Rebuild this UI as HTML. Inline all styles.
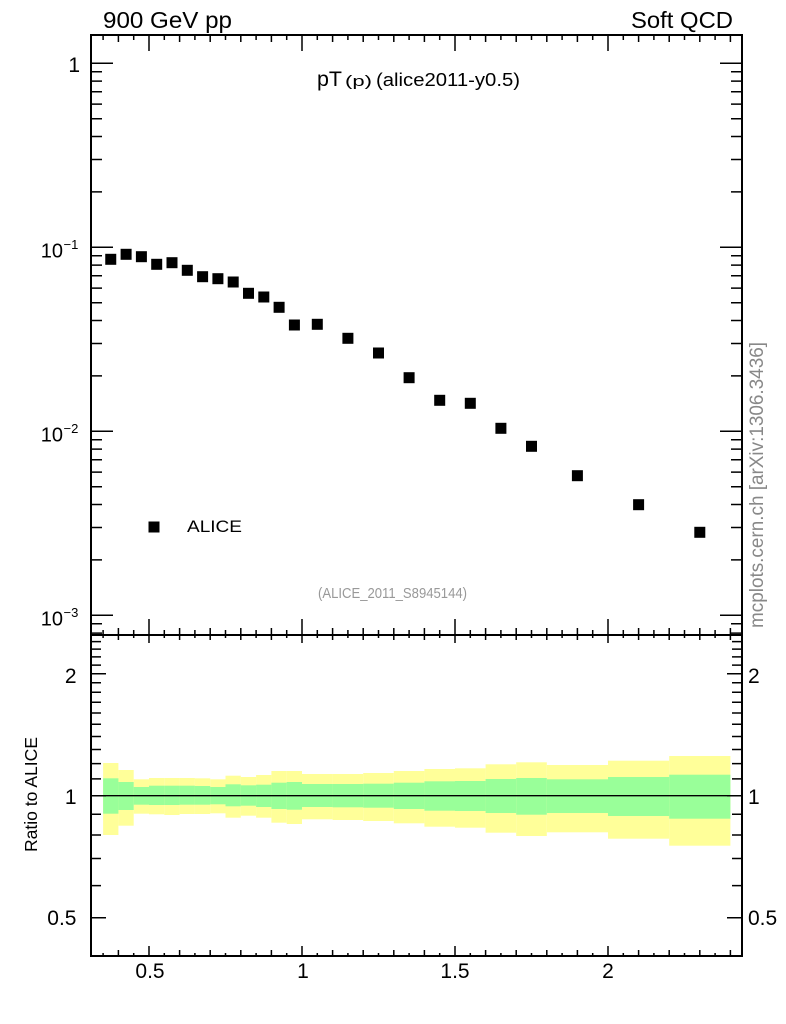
<!DOCTYPE html>
<html><head><meta charset="utf-8"><style>
html,body{margin:0;padding:0;background:#fff;}
svg{display:block;font-family:"Liberation Sans",Arial,sans-serif;}
</style></head><body>
<svg width="786" height="1024" viewBox="0 0 786 1024" xmlns="http://www.w3.org/2000/svg">
<rect width="786" height="1024" fill="#fff"/>
<!-- ratio bands yellow -->
<g fill="#ffff99">
<rect x="103.1" y="763" width="15.3" height="72"/>
<rect x="118.4" y="770" width="15.3" height="55.7"/>
<rect x="133.7" y="779.3" width="15.3" height="34.4"/>
<rect x="149" y="778" width="15.3" height="36.3"/>
<rect x="164.3" y="778" width="15.3" height="37"/>
<rect x="179.6" y="778" width="15.3" height="36"/>
<rect x="194.9" y="778.3" width="15.3" height="35.7"/>
<rect x="210.2" y="779.3" width="15.3" height="34"/>
<rect x="225.5" y="775.7" width="15.3" height="42"/>
<rect x="240.8" y="777" width="15.3" height="38.7"/>
<rect x="256.1" y="775" width="15.3" height="42.7"/>
<rect x="271.4" y="771" width="15.3" height="51.7"/>
<rect x="286.7" y="771" width="15.3" height="53"/>
<rect x="302" y="774" width="30.6" height="45.3"/>
<rect x="332.6" y="774" width="30.6" height="46"/>
<rect x="363.2" y="773" width="30.6" height="48"/>
<rect x="393.8" y="771" width="30.6" height="52.3"/>
<rect x="424.4" y="769" width="30.6" height="57.7"/>
<rect x="455" y="768.3" width="30.6" height="59.4"/>
<rect x="485.6" y="764.3" width="30.6" height="68.4"/>
<rect x="516.2" y="762.3" width="30.6" height="73.7"/>
<rect x="546.8" y="765" width="61.2" height="67.3"/>
<rect x="608" y="760.7" width="61.2" height="78"/>
<rect x="669.2" y="756" width="61.2" height="89.7"/>
</g>
<g fill="#99ff99">
<rect x="103.1" y="778.3" width="15.3" height="35.4"/>
<rect x="118.4" y="782" width="15.3" height="28"/>
<rect x="133.7" y="787" width="15.3" height="17.7"/>
<rect x="149" y="785.7" width="15.3" height="19.3"/>
<rect x="164.3" y="785.7" width="15.3" height="19.3"/>
<rect x="179.6" y="785.7" width="15.3" height="19"/>
<rect x="194.9" y="786" width="15.3" height="18.7"/>
<rect x="210.2" y="787" width="15.3" height="17.3"/>
<rect x="225.5" y="784.3" width="15.3" height="22"/>
<rect x="240.8" y="785.3" width="15.3" height="20.4"/>
<rect x="256.1" y="784.7" width="15.3" height="22.3"/>
<rect x="271.4" y="782.7" width="15.3" height="26.3"/>
<rect x="286.7" y="782" width="15.3" height="27.7"/>
<rect x="302" y="784" width="30.6" height="23"/>
<rect x="332.6" y="784" width="30.6" height="23.3"/>
<rect x="363.2" y="783.7" width="30.6" height="24"/>
<rect x="393.8" y="782.7" width="30.6" height="26.3"/>
<rect x="424.4" y="781.3" width="30.6" height="29.4"/>
<rect x="455" y="781" width="30.6" height="30"/>
<rect x="485.6" y="779" width="30.6" height="34"/>
<rect x="516.2" y="778" width="30.6" height="36.7"/>
<rect x="546.8" y="779.3" width="61.2" height="33.7"/>
<rect x="608" y="777" width="61.2" height="39"/>
<rect x="669.2" y="774.7" width="61.2" height="44"/>
</g>
<line x1="91" y1="795.7" x2="742" y2="795.7" stroke="#000" stroke-width="1.3"/>

<!-- frames -->
<rect x="91" y="35" width="651" height="600" fill="none" stroke="#000" stroke-width="2"/>
<rect x="91" y="635" width="651" height="321" fill="none" stroke="#000" stroke-width="2"/>

<g stroke="#000" stroke-width="1.5" fill="none">
<!-- main y ticks left -->
<path d="M91 63.3h22M91 247.3h22M91 431.3h22M91 615.3h22"/>
<path d="M91 71.7h11M91 81.1h11M91 91.8h11M91 104.1h11M91 118.7h11M91 136.5h11M91 159.5h11M91 191.9h11M91 255.7h11M91 265.1h11M91 275.8h11M91 288.1h11M91 302.7h11M91 320.5h11M91 343.5h11M91 375.9h11M91 439.7h11M91 449.1h11M91 459.8h11M91 472.1h11M91 486.7h11M91 504.5h11M91 527.5h11M91 559.9h11M91 623.7h11M91 633.1h11"/>
<!-- main y ticks right -->
<path d="M742 63.3h-22M742 247.3h-22M742 431.3h-22M742 615.3h-22"/>
<path d="M742 71.7h-11M742 81.1h-11M742 91.8h-11M742 104.1h-11M742 118.7h-11M742 136.5h-11M742 159.5h-11M742 191.9h-11M742 255.7h-11M742 265.1h-11M742 275.8h-11M742 288.1h-11M742 302.7h-11M742 320.5h-11M742 343.5h-11M742 375.9h-11M742 439.7h-11M742 449.1h-11M742 459.8h-11M742 472.1h-11M742 486.7h-11M742 504.5h-11M742 527.5h-11M742 559.9h-11M742 623.7h-11M742 633.1h-11"/>
<!-- ratio y ticks left -->
<path d="M91 673.7h15M91 795.7h15M91 917.7h15"/>
<path d="M91 641.6h10M91 649.1h10M91 656.9h10M91 665.1h10M91 682.7h10M91 692.2h10M91 702.3h10M91 713h10M91 724.3h10M91 736.5h10M91 749.5h10M91 763.6h10M91 778.9h10M91 814.2h10M91 835h10M91 858.5h10M91 885.6h10"/>
<!-- ratio y ticks right -->
<path d="M742 673.7h-15M742 795.7h-15M742 917.7h-15"/>
<path d="M742 641.6h-10M742 649.1h-10M742 656.9h-10M742 665.1h-10M742 682.7h-10M742 692.2h-10M742 702.3h-10M742 713h-10M742 724.3h-10M742 736.5h-10M742 749.5h-10M742 763.6h-10M742 778.9h-10M742 814.2h-10M742 835h-10M742 858.5h-10M742 885.6h-10"/>
<!-- top x ticks (y=35 down) -->
<path d="M149 35v16M302 35v16M455 35v16M608 35v16"/>
<path d="M118.4 35v7M179.6 35v7M210.2 35v7M240.8 35v7M271.4 35v7M332.6 35v7M363.2 35v7M393.8 35v7M424.4 35v7M485.6 35v7M516.2 35v7M546.8 35v7M577.4 35v7M638.6 35v7M669.2 35v7M699.8 35v7M730.4 35v7"/>
<path d="M103.1 35v5M133.7 35v5M164.3 35v5M194.9 35v5M225.5 35v5M256.1 35v5M286.7 35v5M317.3 35v5M347.9 35v5M378.5 35v5M409.1 35v5M439.7 35v5M470.3 35v5M500.9 35v5M531.5 35v5M562.1 35v5M592.7 35v5M623.3 35v5M653.9 35v5M684.5 35v5M715.1 35v5"/>
<!-- main bottom x ticks (y=635 up) -->
<path d="M149 635v-16M302 635v-16M455 635v-16M608 635v-16"/>
<path d="M118.4 635v-7M179.6 635v-7M210.2 635v-7M240.8 635v-7M271.4 635v-7M332.6 635v-7M363.2 635v-7M393.8 635v-7M424.4 635v-7M485.6 635v-7M516.2 635v-7M546.8 635v-7M577.4 635v-7M638.6 635v-7M669.2 635v-7M699.8 635v-7M730.4 635v-7"/>
<path d="M103.1 635v-5M133.7 635v-5M164.3 635v-5M194.9 635v-5M225.5 635v-5M256.1 635v-5M286.7 635v-5M317.3 635v-5M347.9 635v-5M378.5 635v-5M409.1 635v-5M439.7 635v-5M470.3 635v-5M500.9 635v-5M531.5 635v-5M562.1 635v-5M592.7 635v-5M623.3 635v-5M653.9 635v-5M684.5 635v-5M715.1 635v-5"/>
<!-- ratio top x ticks (y=635 down) -->
<path d="M149 635v8M302 635v8M455 635v8M608 635v8"/>
<path d="M118.4 635v5M179.6 635v5M210.2 635v5M240.8 635v5M271.4 635v5M332.6 635v5M363.2 635v5M393.8 635v5M424.4 635v5M485.6 635v5M516.2 635v5M546.8 635v5M577.4 635v5M638.6 635v5M669.2 635v5M699.8 635v5M730.4 635v5"/>
<path d="M103.1 635v3M133.7 635v3M164.3 635v3M194.9 635v3M225.5 635v3M256.1 635v3M286.7 635v3M317.3 635v3M347.9 635v3M378.5 635v3M409.1 635v3M439.7 635v3M470.3 635v3M500.9 635v3M531.5 635v3M562.1 635v3M592.7 635v3M623.3 635v3M653.9 635v3M684.5 635v3M715.1 635v3"/>
<!-- ratio bottom x ticks (y=956 up) -->
<path d="M149 956v-10M302 956v-10M455 956v-10M608 956v-10"/>
<path d="M118.4 956v-6M179.6 956v-6M210.2 956v-6M240.8 956v-6M271.4 956v-6M332.6 956v-6M363.2 956v-6M393.8 956v-6M424.4 956v-6M485.6 956v-6M516.2 956v-6M546.8 956v-6M577.4 956v-6M638.6 956v-6M669.2 956v-6M699.8 956v-6M730.4 956v-6"/>
<path d="M103.1 956v-3M133.7 956v-3M164.3 956v-3M194.9 956v-3M225.5 956v-3M256.1 956v-3M286.7 956v-3M317.3 956v-3M347.9 956v-3M378.5 956v-3M409.1 956v-3M439.7 956v-3M470.3 956v-3M500.9 956v-3M531.5 956v-3M562.1 956v-3M592.7 956v-3M623.3 956v-3M653.9 956v-3M684.5 956v-3M715.1 956v-3"/>
</g>

<!-- data points -->
<g fill="#000">
<rect x="105.25" y="253.8" width="11" height="11"/>
<rect x="120.6" y="248.8" width="11" height="11"/>
<rect x="135.9" y="251.2" width="11" height="11"/>
<rect x="151.2" y="258.8" width="11" height="11"/>
<rect x="166.5" y="257.2" width="11" height="11"/>
<rect x="181.8" y="264.8" width="11" height="11"/>
<rect x="197.1" y="271.2" width="11" height="11"/>
<rect x="212.4" y="273.2" width="11" height="11"/>
<rect x="227.7" y="276.5" width="11" height="11"/>
<rect x="243" y="287.8" width="11" height="11"/>
<rect x="258.3" y="291.5" width="11" height="11"/>
<rect x="273.6" y="301.8" width="11" height="11"/>
<rect x="288.9" y="319.5" width="11" height="11"/>
<rect x="311.8" y="318.8" width="11" height="11"/>
<rect x="342.4" y="332.8" width="11" height="11"/>
<rect x="373" y="347.5" width="11" height="11"/>
<rect x="403.6" y="372.2" width="11" height="11"/>
<rect x="434.2" y="394.8" width="11" height="11"/>
<rect x="464.8" y="397.8" width="11" height="11"/>
<rect x="495.4" y="422.8" width="11" height="11"/>
<rect x="526" y="440.8" width="11" height="11"/>
<rect x="571.9" y="470.2" width="11" height="11"/>
<rect x="633.1" y="499.2" width="11" height="11"/>
<rect x="694.3" y="526.8" width="11" height="11"/>
<!-- legend marker -->
<rect x="148.5" y="521.5" width="11" height="11"/>
</g>

<!-- texts -->
<g fill="#000">
<text x="103" y="28" font-size="23" textLength="129" lengthAdjust="spacingAndGlyphs">900 GeV pp</text>
<text x="631" y="28" font-size="23" textLength="102" lengthAdjust="spacingAndGlyphs">Soft QCD</text>
<text x="317" y="86" font-size="21" textLength="25" lengthAdjust="spacingAndGlyphs">pT</text>
<text x="345" y="86" font-size="15" textLength="27" lengthAdjust="spacingAndGlyphs">(p)</text>
<text x="376" y="86" font-size="18" textLength="144" lengthAdjust="spacingAndGlyphs">(alice2011-y0.5)</text>

<text x="80" y="72" font-size="21" text-anchor="end">1</text>
<text x="63" y="257.5" font-size="20" text-anchor="end">10</text>
<text x="63.5" y="249" font-size="13">−1</text>
<text x="63" y="441.5" font-size="20" text-anchor="end">10</text>
<text x="63.5" y="433" font-size="13">−2</text>
<text x="63" y="625.5" font-size="20" text-anchor="end">10</text>
<text x="63.5" y="617" font-size="13">−3</text>

<text x="76.5" y="683" font-size="21" text-anchor="end">2</text>
<text x="76.5" y="804" font-size="21" text-anchor="end">1</text>
<text x="76.5" y="925" font-size="21" text-anchor="end">0.5</text>
<text x="748" y="683" font-size="21">2</text>
<text x="748" y="804" font-size="21">1</text>
<text x="748" y="925" font-size="21">0.5</text>

<text x="150" y="978" font-size="21" text-anchor="middle">0.5</text>
<text x="303" y="978" font-size="21" text-anchor="middle">1</text>
<text x="455" y="978" font-size="21" text-anchor="middle">1.5</text>
<text x="608" y="978" font-size="21" text-anchor="middle">2</text>

<text x="187" y="532" font-size="17" textLength="55" lengthAdjust="spacingAndGlyphs">ALICE</text>
<text transform="translate(37,852) rotate(-90)" font-size="17.5" textLength="115" lengthAdjust="spacingAndGlyphs">Ratio to ALICE</text>
</g>
<text x="318" y="598" font-size="15" fill="#999" textLength="149" lengthAdjust="spacingAndGlyphs">(ALICE_2011_S8945144)</text>
<text transform="translate(763,628) rotate(-90)" font-size="19" fill="#888" textLength="286" lengthAdjust="spacingAndGlyphs">mcplots.cern.ch [arXiv:1306.3436]</text>
</svg>
</body></html>
